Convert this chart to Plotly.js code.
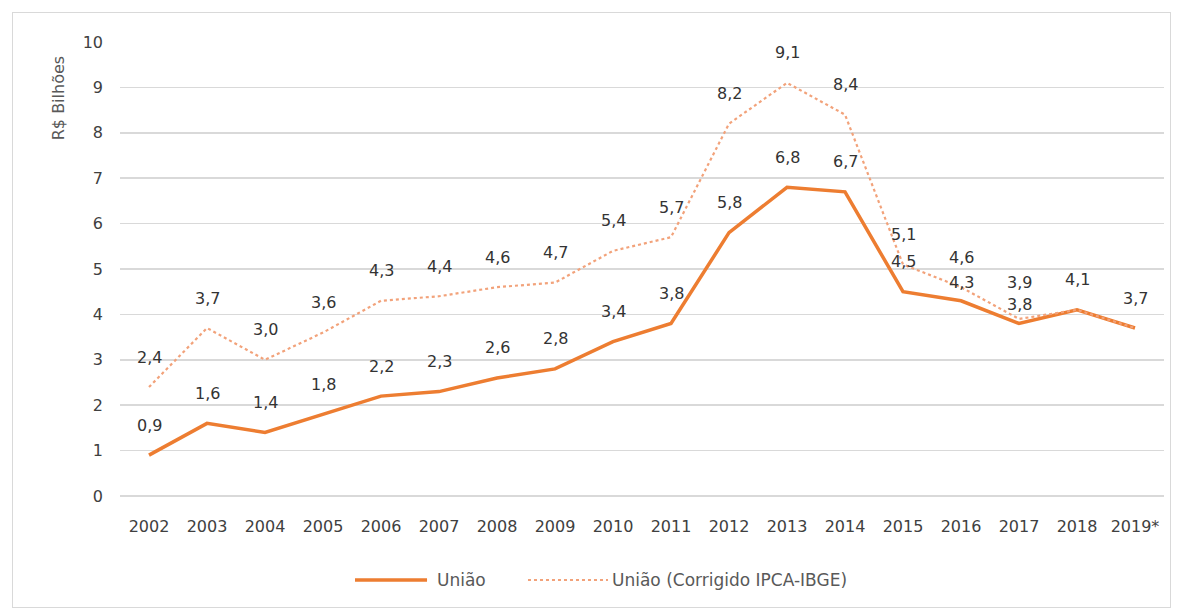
<!DOCTYPE html>
<html>
<head>
<meta charset="utf-8">
<script src="https://cdn.plot.ly/plotly-3.0.1.min.js"></script>
<style>
html,body{margin:0;padding:0;background:#fff;}
#wrap{position:relative;width:1181px;height:611px;}
#chart{width:1181px;height:611px;}
#frame{position:absolute;left:12px;top:12px;width:1157px;height:594px;border:1px solid #d9d9d9;pointer-events:none;}
</style>
</head>
<body>
<div id="wrap"><div id="chart"></div><div id="frame"></div></div>
<script>
var years = ["2002","2003","2004","2005","2006","2007","2008","2009","2010","2011","2012","2013","2014","2015","2016","2017","2018","2019*"];
var uniao = [0.9,1.6,1.4,1.8,2.2,2.3,2.6,2.8,3.4,3.8,5.8,6.8,6.7,4.5,4.3,3.8,4.1,3.7];
var uniaoCorrigido = [2.4,3.7,3.0,3.6,4.3,4.4,4.6,4.7,5.4,5.7,8.2,9.1,8.4,5.1,4.6,3.9,4.1,3.7];
var yTicks = [0,1,2,3,4,5,6,7,8,9,10];
var seriesNames = ['União', 'União (Corrigido IPCA-IBGE)'];

var FONT = 'DejaVu Sans, Verdana, sans-serif';
function fmt(v){ return v.toFixed(1).replace('.', ','); }

var solidStyle = {color: '#ED7D31', width: 3.5};
var dotStyle = {color: '#F2A27A', width: 2.2, dash: 'dot'};

var traces = [
  {x: years, y: uniao, type: 'scatter', mode: 'lines', name: seriesNames[0], line: solidStyle},
  {x: years, y: uniaoCorrigido, type: 'scatter', mode: 'lines', name: seriesNames[1], line: dotStyle}
];

// label offsets (px above point); a few are nudged to avoid collisions as in the original
var shiftSolid = {14: 18, 15: 19};
var shiftDot = {15: 36};

var ann = [];
uniaoCorrigido.forEach(function(v, i){
  if (v === uniao[i]) return; // identical point: a single label shown
  ann.push({x: i, y: v, xref: 'x', yref: 'y', text: fmt(v), showarrow: false,
    yshift: (shiftDot[i] !== undefined ? shiftDot[i] : 30),
    font: {family: FONT, size: 16, color: '#333333'}});
});
uniao.forEach(function(v, i){
  ann.push({x: i, y: v, xref: 'x', yref: 'y', text: fmt(v), showarrow: false,
    yshift: (shiftSolid[i] !== undefined ? shiftSolid[i] : 30),
    font: {family: FONT, size: 16, color: '#333333'}});
});
ann.push({x: -0.059, y: 0.877, xref: 'paper', yref: 'paper', text: 'R$ Bilhões', textangle: -90,
  xanchor: 'center', yanchor: 'middle',
  showarrow: false, font: {family: FONT, size: 16, color: '#595959'}});

// custom legend (long line samples, as in the original)
var legY = -0.185;
ann.push({x: 0.3017, y: legY, xref: 'paper', yref: 'paper', text: seriesNames[0], showarrow: false,
  xanchor: 'left', yanchor: 'middle', font: {family: FONT, size: 17, color: '#595959'}});
ann.push({x: 0.4693, y: legY, xref: 'paper', yref: 'paper', text: seriesNames[1], showarrow: false,
  xanchor: 'left', yanchor: 'middle', font: {family: FONT, size: 17, color: '#595959'}});
var shapes = [
  {type: 'line', xref: 'paper', yref: 'paper', x0: 0.2251, x1: 0.2941, y0: legY, y1: legY, line: solidStyle},
  {type: 'line', xref: 'paper', yref: 'paper', x0: 0.3908, x1: 0.4674, y0: legY, y1: legY, line: dotStyle}
];

var layout = {
  width: 1181, height: 611,
  margin: {l: 120, r: 17, t: 42, b: 115},
  paper_bgcolor: '#fff', plot_bgcolor: '#fff',
  showlegend: false,
  xaxis: {type: 'category', range: [-0.5, years.length - 0.5], autorange: false,
    showgrid: false, zeroline: false, showline: false, ticks: '',
    ticklabelstandoff: 19,
    tickfont: {family: FONT, size: 16, color: '#404040'}},
  yaxis: {range: [0, 10], autorange: false, tickvals: yTicks, ticktext: yTicks.map(String), showgrid: true,
    gridcolor: '#d9d9d9', gridwidth: 1.5, zeroline: true, zerolinecolor: '#d9d9d9', zerolinewidth: 1.5,
    showline: false, ticks: '', ticklabelstandoff: 16,
    tickfont: {family: FONT, size: 16, color: '#404040'}},
  annotations: ann,
  shapes: shapes
};

Plotly.newPlot('chart', traces, layout, {displayModeBar: false, staticPlot: true});
</script>
</body>
</html>
